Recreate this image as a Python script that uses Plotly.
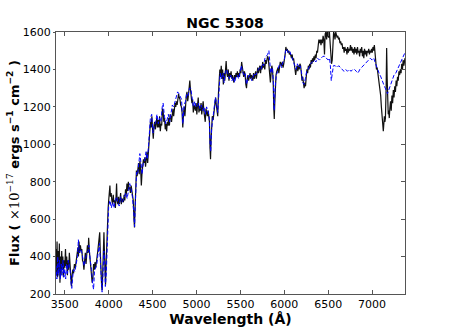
import plotly.graph_objects as go

# Observed spectrum (black) - wavelength (A), flux (1e-17 erg/s/cm^2)
obs_wave = [
    3400, 3405, 3412, 3418, 3425, 3432, 3438, 3445, 3452, 3458, 3465, 3472, 3478, 3485, 3492,
    3500, 3508, 3515, 3522, 3530, 3538, 3545, 3552, 3560, 3568, 3576, 3584, 3592, 3600, 3610,
    3620, 3630, 3640, 3650, 3656, 3662, 3670, 3678, 3686, 3694, 3702, 3710, 3718, 3726, 3734,
    3742, 3750, 3758, 3766, 3772, 3780, 3788, 3796, 3804, 3812, 3820, 3828, 3836, 3844, 3852,
    3860, 3868, 3876, 3884, 3892, 3898, 3904, 3912, 3920, 3926, 3932, 3940, 3946, 3952, 3958,
    3964, 3970, 3978, 3986, 3994, 4000, 4008, 4014, 4020, 4028, 4036, 4044, 4052, 4060, 4068,
    4076, 4084, 4090, 4096, 4104, 4112, 4120, 4128, 4136, 4144, 4152, 4160, 4168, 4176, 4184,
    4192, 4200, 4208, 4216, 4224, 4232, 4240, 4248, 4256, 4264, 4272, 4280, 4288, 4294, 4300,
    4308, 4316, 4324, 4332, 4340, 4348, 4356, 4364, 4372, 4380, 4388, 4396, 4404, 4412, 4420,
    4428, 4436, 4444, 4452, 4460, 4468, 4476, 4484, 4492, 4500, 4508, 4516, 4524, 4532, 4540,
    4548, 4556, 4564, 4572, 4580, 4588, 4596, 4604, 4612, 4620, 4628, 4636, 4644, 4652, 4660,
    4668, 4676, 4684, 4692, 4700, 4708, 4716, 4724, 4732, 4740, 4748, 4756, 4764, 4772, 4780,
    4788, 4796, 4804, 4812, 4820, 4828, 4836, 4844, 4852, 4860, 4868, 4876, 4884, 4892, 4900,
    4908, 4916, 4924, 4932, 4940, 4948, 4956, 4964, 4972, 4980, 4988, 4996, 5004, 5012, 5020,
    5028, 5036, 5044, 5052, 5060, 5068, 5076, 5084, 5092, 5100, 5108, 5116, 5124, 5132, 5140,
    5148, 5154, 5160, 5166, 5172, 5180, 5190, 5200, 5210, 5218, 5226, 5234, 5242, 5250, 5258,
    5266, 5274, 5282, 5290, 5298, 5306, 5314, 5322, 5330, 5338, 5346, 5354, 5362, 5370, 5378,
    5386, 5394, 5402, 5410, 5418, 5426, 5434, 5442, 5450, 5458, 5466, 5474, 5482, 5490, 5498,
    5506, 5514, 5522, 5530, 5538, 5546, 5554, 5562, 5570, 5578, 5586, 5594, 5602, 5610, 5618,
    5626, 5634, 5642, 5650, 5658, 5666, 5674, 5682, 5690, 5698, 5706, 5714, 5722, 5730, 5738,
    5746, 5754, 5762, 5770, 5778, 5786, 5794, 5802, 5810, 5818, 5826, 5834, 5842, 5850, 5858,
    5866, 5874, 5880, 5886, 5892, 5898, 5906, 5914, 5922, 5930, 5938, 5946, 5954, 5962, 5970,
    5978, 5986, 5994, 6002, 6010, 6018, 6026, 6034, 6042, 6050, 6058, 6066, 6074, 6082, 6090,
    6098, 6106, 6114, 6122, 6130, 6138, 6146, 6154, 6162, 6170, 6178, 6186, 6194, 6202, 6210,
    6218, 6226, 6234, 6242, 6250, 6258, 6266, 6274, 6282, 6290, 6298, 6306, 6314, 6322, 6330,
    6338, 6346, 6354, 6362, 6370, 6378, 6386, 6394, 6402, 6410, 6418, 6426, 6434, 6442, 6450,
    6458, 6466, 6474, 6482, 6490, 6498, 6506, 6514, 6522, 6530, 6538, 6546, 6554, 6562, 6570,
    6578, 6586, 6594, 6602, 6610, 6618, 6626, 6634, 6642, 6650, 6658, 6666, 6674, 6682, 6690,
    6698, 6706, 6714, 6722, 6730, 6738, 6746, 6754, 6762, 6770, 6778, 6786, 6794, 6802, 6810,
    6818, 6826, 6834, 6842, 6850, 6858, 6866, 6874, 6882, 6890, 6898, 6906, 6914, 6922, 6930,
    6938, 6946, 6954, 6962, 6970, 6978, 6986, 6994, 7002, 7010, 7018, 7026, 7034, 7042, 7050,
    7058, 7066, 7074, 7082, 7090, 7098, 7106, 7114, 7122, 7128, 7134, 7140, 7146, 7152, 7160,
    7166, 7172, 7178, 7184, 7190, 7196, 7202, 7210, 7218, 7226, 7234, 7242, 7250, 7258, 7266,
    7274, 7282, 7290, 7298, 7306, 7314, 7322, 7330, 7338, 7346, 7354, 7362, 7370, 7375,
]
obs_flux = [
    440, 300, 480, 290, 430, 320, 470, 260, 400, 300, 430, 330, 400, 290, 380,
    340, 440, 350, 400, 300, 380, 330, 420, 370, 300, 240, 300, 330, 310, 360,
    340, 380, 420, 450, 400, 480, 420, 460, 430, 440, 380, 370, 330, 380, 420,
    360, 400, 460, 420, 500, 430, 380, 340, 300, 260, 280, 360, 330, 370, 340,
    360, 400, 430, 480, 500, 530, 430, 300, 240, 220, 360, 480, 530, 420, 300,
    250, 350, 500, 620, 660, 700, 760, 780, 720, 740, 700, 680, 730, 690, 700,
    660, 720, 790, 700, 680, 720, 680, 700, 740, 680, 710, 700, 690, 730, 700,
    760, 730, 790, 750, 800, 760, 770, 740, 780, 760, 720, 700, 600, 555, 650,
    800, 860, 830, 880, 900, 840, 910, 870, 780, 850, 880, 920, 900, 930, 880,
    950, 960, 900, 960, 1050, 1060, 1120, 1090, 1150, 1080, 1030, 1100, 1120, 1080, 1100,
    1140, 1090, 1130, 1090, 1150, 1070, 1110, 1100, 1190, 1180, 1120, 1140, 1080, 1110, 1070,
    1120, 1100, 1140, 1100, 1160, 1150, 1120, 1170, 1190, 1150, 1180, 1220, 1200, 1230, 1210,
    1260, 1270, 1250, 1240, 1210, 1200, 1170, 1090, 1160, 1200, 1150, 1230, 1260, 1280, 1230,
    1260, 1300, 1340, 1290, 1260, 1220, 1240, 1170, 1210, 1200, 1180, 1220, 1160, 1210, 1250,
    1170, 1200, 1180, 1220, 1160, 1190, 1230, 1180, 1140, 1120, 1190, 1170, 1150, 1180, 1160,
    1120, 980, 920, 1020, 1100, 1150, 1130, 1180, 1230, 1250, 1210, 1190, 1150, 1270, 1340,
    1400, 1360, 1420, 1350, 1400, 1320, 1380, 1340, 1400, 1445, 1380, 1360, 1400, 1340, 1380,
    1360, 1390, 1350, 1370, 1340, 1330, 1370, 1350, 1380, 1360, 1390, 1360, 1380, 1360, 1400,
    1380, 1440, 1410, 1380, 1360, 1390, 1370, 1320, 1300, 1350, 1370, 1340, 1360, 1380, 1350,
    1370, 1360, 1340, 1380, 1350, 1370, 1390, 1350, 1380, 1410, 1380, 1400, 1420, 1380, 1420,
    1400, 1440, 1410, 1430, 1400, 1450, 1430, 1460, 1470, 1460, 1420, 1380, 1330, 1380, 1420,
    1400, 1330, 1200, 1135, 1220, 1340, 1370, 1390, 1400, 1410, 1380, 1420, 1440, 1430, 1420,
    1440, 1410, 1430, 1450, 1480, 1520, 1500, 1510, 1490, 1500, 1480, 1490, 1470, 1460, 1480,
    1450, 1460, 1430, 1410, 1370, 1400, 1420, 1390, 1420, 1400, 1430, 1420, 1380, 1340, 1360,
    1320, 1300, 1330, 1310, 1360, 1400, 1380, 1420, 1400, 1430, 1410, 1450, 1430, 1460, 1440,
    1470, 1450, 1480, 1460, 1500, 1490, 1520, 1560, 1540, 1560, 1530, 1560, 1540, 1580, 1560,
    1480, 1590, 1600, 1560, 1600, 1580, 1570, 1600, 1520, 1480, 1430, 1450, 1540, 1600, 1590,
    1560, 1600, 1590, 1570, 1580, 1560, 1570, 1540, 1550, 1530, 1540, 1510, 1520, 1490, 1520,
    1500, 1510, 1480, 1520, 1490, 1510, 1500, 1530, 1500, 1520, 1490, 1510, 1480, 1520, 1490,
    1510, 1480, 1520, 1490, 1500, 1470, 1510, 1490, 1520, 1470, 1500, 1460, 1510, 1480, 1500,
    1470, 1500, 1490, 1510, 1480, 1500, 1490, 1510, 1490, 1520, 1500, 1530, 1480, 1430, 1400,
    1410, 1380, 1370, 1350, 1310, 1260, 1200, 1130, 1090, 1070, 1110, 1150, 1120, 1140, 1300,
    1515, 1350, 1200, 1160, 1180, 1140, 1190, 1230, 1180, 1260, 1220, 1290, 1250, 1310, 1280,
    1340, 1310, 1360, 1340, 1390, 1370, 1400, 1380, 1430, 1400, 1450, 1420, 1440, 1460,
]

# Model fit (blue dashed)
fit_wave = [
    3400, 3410, 3420, 3430, 3440, 3450, 3460, 3470, 3480, 3490, 3500, 3510, 3520, 3530, 3540,
    3550, 3560, 3570, 3580, 3590, 3600, 3615, 3630, 3645, 3655, 3665, 3680, 3695, 3710, 3720,
    3735, 3750, 3765, 3775, 3790, 3805, 3818, 3828, 3838, 3850, 3865, 3880, 3895, 3905, 3915,
    3925, 3935, 3945, 3955, 3962, 3972, 3980, 3990, 4000, 4015, 4030, 4045, 4060, 4075, 4090,
    4105, 4120, 4135, 4150, 4165, 4180, 4195, 4210, 4225, 4240, 4255, 4270, 4285, 4295, 4305,
    4318, 4330, 4342, 4355, 4368, 4380, 4395, 4410, 4425, 4440, 4455, 4465, 4475, 4490, 4505,
    4520, 4535, 4550, 4565, 4580, 4595, 4610, 4620, 4635, 4650, 4665, 4680, 4695, 4710, 4725,
    4740, 4755, 4770, 4785, 4800, 4815, 4830, 4845, 4860, 4875, 4890, 4905, 4920, 4935, 4950,
    4965, 4980, 4995, 5010, 5025, 5040, 5055, 5070, 5085, 5100, 5115, 5130, 5145, 5155, 5162,
    5172, 5185, 5200, 5215, 5230, 5242, 5255, 5270, 5285, 5300, 5315, 5330, 5345, 5360, 5375,
    5390, 5405, 5420, 5435, 5450, 5465, 5480, 5495, 5510, 5525, 5540, 5555, 5570, 5585, 5600,
    5615, 5630, 5645, 5660, 5675, 5690, 5705, 5720, 5735, 5750, 5765, 5780, 5795, 5810, 5825,
    5835, 5845, 5855, 5865, 5875, 5885, 5895, 5910, 5925, 5940, 5955, 5970, 5985, 6000, 6015,
    6030, 6045, 6060, 6075, 6090, 6105, 6120, 6135, 6150, 6165, 6180, 6195, 6210, 6225, 6240,
    6255, 6270, 6285, 6300, 6320, 6340, 6360, 6380, 6400, 6420, 6440, 6460, 6480, 6500, 6515,
    6525, 6535, 6545, 6560, 6580, 6600, 6620, 6640, 6660, 6680, 6700, 6720, 6740, 6760, 6780,
    6800, 6820, 6840, 6860, 6880, 6900, 6920, 6940, 6960, 6980, 7000, 7020, 7040, 7060, 7080,
    7100, 7120, 7140, 7160, 7175, 7190, 7210, 7230, 7250, 7270, 7290, 7310, 7330, 7350, 7375,
]
fit_flux = [
    350, 280, 400, 300, 380, 280, 360, 300, 380, 290, 330, 280, 360, 310, 380,
    350, 330, 260, 230, 290, 330, 320, 360, 400, 490, 420, 440, 420, 380, 350,
    380, 420, 430, 460, 380, 330, 250, 225, 320, 340, 360, 420, 470, 380, 280,
    210, 300, 430, 380, 240, 300, 450, 600, 670, 700, 660, 690, 660, 700, 720,
    690, 670, 720, 690, 700, 720, 740, 710, 760, 790, 760, 720, 640, 560, 700,
    850, 840, 900, 950, 900, 840, 900, 910, 960, 920, 1000, 1100, 1140, 1160, 1060,
    1100, 1120, 1160, 1110, 1140, 1120, 1200, 1220, 1150, 1110, 1130, 1160, 1120, 1180, 1210,
    1200, 1230, 1250, 1280, 1270, 1250, 1240, 1110, 1210, 1230, 1270, 1260, 1300, 1300, 1240,
    1200, 1230, 1200, 1200, 1220, 1190, 1210, 1180, 1200, 1160, 1200, 1180, 1150, 1000, 960,
    1080, 1150, 1190, 1250, 1220, 1170, 1300, 1380, 1350, 1380, 1330, 1390, 1400, 1370, 1350,
    1370, 1340, 1360, 1330, 1360, 1370, 1350, 1380, 1420, 1390, 1370, 1380, 1320, 1350, 1370,
    1360, 1340, 1360, 1380, 1370, 1390, 1400, 1410, 1400, 1430, 1420, 1460, 1470, 1480, 1500,
    1440, 1380, 1400, 1410, 1340, 1180, 1300, 1370, 1390, 1420, 1430, 1410, 1440, 1450, 1500,
    1510, 1490, 1500, 1480, 1460, 1450, 1430, 1400, 1430, 1410, 1420, 1390, 1330, 1320, 1350,
    1390, 1400, 1420, 1430, 1440, 1450, 1440, 1460, 1450, 1460, 1470, 1470, 1460, 1450, 1460,
    1420, 1340, 1380, 1420, 1420, 1410, 1420, 1410, 1400, 1390, 1400, 1390, 1400, 1390, 1400,
    1400, 1390, 1380, 1400, 1410, 1420, 1430, 1440, 1450, 1460, 1450, 1460, 1430, 1400, 1380,
    1360, 1330, 1310, 1290, 1270, 1290, 1320, 1350, 1370, 1380, 1400, 1420, 1440, 1460, 1490,
]

x_ticks = [3500, 4000, 4500, 5000, 5500, 6000, 6500, 7000]
y_ticks = [200, 400, 600, 800, 1000, 1200, 1400, 1600]

fig = go.Figure()

fig.add_trace(go.Scatter(
    x=obs_wave, y=obs_flux, mode='lines',
    line=dict(color='#111111', width=1.2),
    showlegend=False,
))
fig.add_trace(go.Scatter(
    x=fit_wave, y=fit_flux, mode='lines',
    line=dict(color='blue', width=1, dash='4px,2px'),
    showlegend=False,
))
# invisible trace on a right-hand axis, only to get inside ticks there
fig.add_trace(go.Scatter(
    x=[3400], y=[200], yaxis='y2', mode='lines',
    line=dict(width=0), hoverinfo='skip', showlegend=False,
))

frame = '#555555'
tick_font = dict(family='DejaVu Sans', size=11, color='black')

fig.update_layout(
    width=450, height=327,
    margin=dict(l=56, r=45, t=32, b=33, autoexpand=False),
    paper_bgcolor='white', plot_bgcolor='white',
    font=dict(family='DejaVu Sans', color='black'),
    title=dict(text='<b>NGC 5308</b>', x=0.5, xanchor='center',
               y=0.93, yanchor='middle', font=dict(size=14)),
    xaxis=dict(
        range=[3400, 7375], tickvals=x_ticks, automargin=False,
        showline=True, mirror='ticks', linecolor=frame, linewidth=1,
        ticks='inside', ticklen=4, tickcolor=frame,
        showgrid=False, zeroline=False, tickfont=tick_font,
        title=dict(text='<b>Wavelength (Å)</b>', font=dict(size=14), standoff=2),
    ),
    yaxis=dict(
        range=[200, 1600], tickvals=y_ticks, automargin=False,
        showline=True, linecolor=frame, linewidth=1,
        ticks='outside', ticklen=2, tickcolor=frame,
        showgrid=False, zeroline=False, tickfont=tick_font,
        title=dict(
            text='<b>Flux ( </b><span style="font-family:DejaVu Serif">×10<sup>−17</sup></span>'
                 '<b> ergs s<sup>−1</sup> cm<sup>−2</sup> )</b>',
            font=dict(size=13), standoff=0),
    ),
    yaxis2=dict(
        range=[200, 1600], tickvals=y_ticks, overlaying='y', side='right',
        showline=True, linecolor=frame, linewidth=1,
        ticks='inside', ticklen=4, tickcolor=frame, showticklabels=False,
        showgrid=False, zeroline=False, automargin=False,
    ),
)

# drop the page's default body margin so the figure sits at the window corner
fig.write_html('out.html', config={'displayModeBar': False},
               post_script="document.body.style.margin='0';")
